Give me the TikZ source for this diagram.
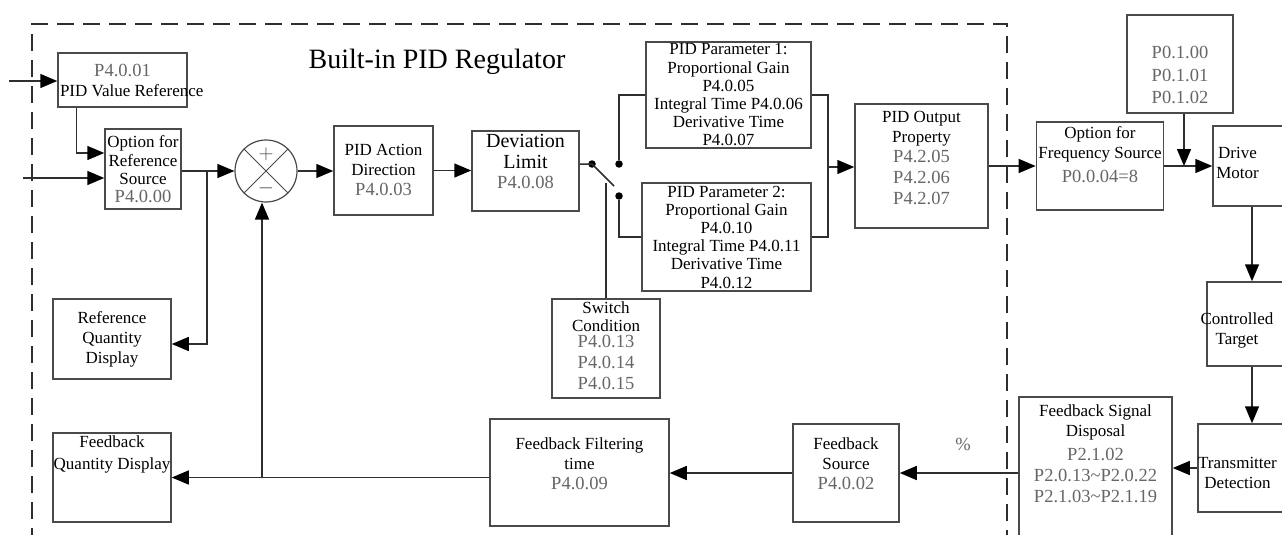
\documentclass[tikz,border=0pt]{standalone}
\usepackage{fontspec}
\setmainfont{Liberation Serif}
\usepackage{tikz}
\usetikzlibrary{arrows.meta,positioning,calc}
\definecolor{boxgray}{HTML}{4A4A4A}
\definecolor{wiregray}{HTML}{2E2E2E}
\definecolor{codegray}{HTML}{666666}
\newcommand{\txtfont}{\fontsize{17}{20}\selectfont}
\newcommand{\codefont}{\fontsize{18.5}{22}\selectfont\color{codegray}}
\newcommand{\padb}[1]{\rule[-#1]{0pt}{0pt}}
\newcommand{\padt}[1]{\rule{0pt}{#1}}

\begin{document}
\begin{tikzpicture}[
            x=1pt, y=-1pt,
            blk/.style={rectangle, draw=boxgray, line width=1.5pt, inner sep=2pt, align=center, font=\txtfont},
            lbl/.style={inner sep=1pt, align=center, font=\txtfont},
            sumc/.style={circle, draw=boxgray, line width=1.2pt, minimum size=62pt, inner sep=0pt},
            dot/.style={circle, fill=black, minimum size=7.5pt, inner sep=0pt},
            wire/.style={draw=wiregray, line width=1.5pt},
            arrow/.style={wire, -{Triangle[length=17pt,width=14pt,color=black]}},
            regionframe/.style={draw=wiregray, line width=2.8pt, dash pattern=on 17pt off 9pt}
        ]
            \useasboundingbox (0,0) rectangle (1282,535);
            \clip (0,0) rectangle (1282,535);

            % Regulator frame
            \coordinate (fbl) at (32,545);
            \coordinate (ftr) at (1007,24);
            \draw[regionframe] (fbl) |- (ftr) -- (ftr |- fbl);
            \node[font=\fontsize{28}{30}\selectfont] (title) at (437,62) {Built-in PID Regulator};

            % Nodes
            \node[blk, minimum width=129pt, minimum height=54pt] (valref) at (122.5,80) {{\codefont P4.0.01}\\\makebox[125pt][l]{PID Value Reference}};
            \node[blk, minimum width=76pt, minimum height=80pt, font=\fontsize{17}{18.5}\selectfont] (refsrc) at (143,169) {Option for\\Reference\\Source\\[-1pt]{\codefont P4.0.00}};
            \node[sumc] (sum) at (266,171) {};
            \node[font=\fontsize{22}{22}\selectfont, text=boxgray] (plus) at (266,154) {$+$};
            \node[font=\fontsize{22}{22}\selectfont, text=boxgray] (minus) at (266,188) {$-$};
            \node[blk, minimum width=99pt, minimum height=89pt] (act) at (383.5,170.5) {PID Action\\Direction\\{\codefont P4.0.03}};
            \node[blk, minimum width=107pt, minimum height=80pt, font=\fontsize{20}{20.5}\selectfont] (dev) at (525.5,171) {Deviation\\Limit\\{\codefont P4.0.08}\padb{19pt}};
            \node[dot] (sw0) at (592,164) {};
            \node[dot] (sw1) at (619,164) {};
            \node[dot] (sw2) at (619,196) {};
            \node[blk, minimum width=108pt, minimum height=99pt, font=\fontsize{17}{18}\selectfont] (swc) at (606,348.5) {Switch\\Condition\\[-2pt]{\codefont P4.0.13}\\[3pt]{\codefont P4.0.14}\\[3pt]{\codefont P4.0.15}\padb{6pt}};
            \node[blk, minimum width=165pt, minimum height=106pt, inner ysep=0pt, font=\fontsize{17}{18.2}\selectfont] (pid1) at (728.5,95) {PID Parameter 1:\\Proportional Gain\\P4.0.05\\Integral Time P4.0.06\\Derivative Time\\P4.0.07};
            \node[blk, minimum width=169pt, minimum height=108pt, inner ysep=0pt, font=\fontsize{17}{18.2}\selectfont] (pid2) at (726.5,237) {PID Parameter 2:\\Proportional Gain\\P4.0.10\\Integral Time P4.0.11\\Derivative Time\\P4.0.12};
            \node[blk, minimum width=133pt, minimum height=124pt] (out) at (921.5,166) {PID Output\\Property\\{\codefont P4.2.05}\\[1pt]{\codefont P4.2.06}\\[1pt]{\codefont P4.2.07}\padb{17pt}};
            \node[blk, minimum width=126pt, minimum height=88pt] (freq) at (1100,166) {Option for\\Frequency Source\\[4pt]{\codefont P0.0.04=8}\padb{22pt}};
            \node[blk, minimum width=106pt, minimum height=98pt] (p01) at (1180,64) {\padt{35pt}{\codefont P0.1.00}\\[2.5pt]{\codefont P0.1.01}\\[2.5pt]{\codefont P0.1.02}};
            \node[blk, minimum width=78pt, minimum height=80pt] (motor) at (1252,166) {};
            \node[lbl] (motortxt) at (1237.5,163) {Drive\\Motor};
            \node[blk, minimum width=90pt, minimum height=84pt] (target) at (1252,324) {};
            \node[lbl] (targettxt) at (1237,330) {Controlled\\Target};
            \node[blk, minimum width=108pt, minimum height=88pt] (trans) at (1252,468) {};
            \node[lbl] (transtxt) at (1237.5,473) {Transmitter\\Detection};
            \node[blk, minimum width=153pt, minimum height=163pt] (fsd) at (1095.5,478.5) {};
            \node[lbl, anchor=north] (fsdtxt) at ([yshift=-7pt]fsd.north) {Feedback Signal\\Disposal\\[4pt]{\codefont P2.1.02}\\[1pt]{\codefont P2.0.13\textasciitilde P2.0.22}\\[1pt]{\codefont P2.1.03\textasciitilde P2.1.19}};
            \node[font=\fontsize{18.5}{20}\selectfont, text=codegray] (pct) at (963,444) {\%};
            \node[blk, minimum width=106pt, minimum height=98pt] (fbs) at (846,473) {Feedback\\Source\\{\codefont P4.0.02}\padb{18pt}};
            \node[blk, minimum width=179pt, minimum height=107pt] (fbf) at (579.5,472.5) {Feedback Filtering\\time\\{\codefont P4.0.09}\padb{18pt}};
            \node[blk, minimum width=118pt, minimum height=80pt] (refq) at (112,339) {Reference\\Quantity\\Display};
            \node[blk, minimum width=118pt, minimum height=89pt] (fbq) at (112,477.5) {};
            \node[lbl, anchor=north] (fbqtxt) at ([yshift=-2pt]fbq.north) {Feedback\\[2pt]Quantity Display};

            % Summing point
            \draw[boxgray, line width=1pt] (sum.north west) -- (sum.south east) (sum.north east) -- (sum.south west);

            % Switch
            \coordinate (blade) at (614,186);
            \coordinate (link) at (606,183);
            \draw[wire] (sw0 -| dev.east) -- (sw0.center) -- (blade);
            \draw[wire] (link) -- (link |- swc.north);
            \draw[wire] (sw1.north) |- (pid1.west);
            \draw[wire] (sw2.south) |- (pid2.west);
            \coordinate (mrg) at (828,167);
            \draw[wire] (pid1.east) -| (mrg) |- (pid2.east);

            % Arrows
            \coordinate (in1) at (9,81);
            \coordinate (in2) at (23,178);
            \coordinate (jref) at (207,171);
            \draw[arrow] (in1) -- (in1 -| valref.west);
            \draw[arrow] (in2) -- (in2 -| refsrc.west);
            \draw[arrow] ([xshift=19pt]valref.south west) |- ([yshift=16pt]refsrc.west);
            \draw[arrow] (sum.west -| refsrc.east) -- (sum.west);
            \draw[arrow] (jref) |- ([yshift=-5pt]refq.east);
            \draw[arrow] (sum.east) -- (sum.east -| act.west);
            \draw[arrow] (act.east) -- (act.east -| dev.west);
            \draw[arrow] (mrg) -- (mrg -| out.west);
            \draw[arrow] (out.east) -- (freq.west);
            \draw[arrow] (freq.east) -- (motor.west);
            \draw[arrow] ([xshift=4pt]p01.south) -- ([xshift=4pt]p01.south |- freq.east);
            \draw[arrow] (motor) -- (target);
            \draw[arrow] (target) -- (trans);
            \draw[arrow] (trans.west) -- (trans.west -| fsd.east);
            \draw[arrow] (fbs.east -| fsd.west) -- (fbs.east);
            \draw[arrow] (fbs.west) -- (fbs.west -| fbf.east);
            \draw[arrow] (fbq.east -| fbf.west) -- (fbq.east);
            \draw[arrow] ([xshift=-4pt]sum.south |- fbq.east) -- ([xshift=-4pt]sum.south);
        \end{tikzpicture}
\end{document}
